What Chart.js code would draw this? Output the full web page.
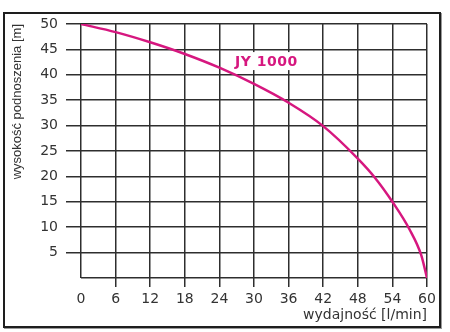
<!DOCTYPE html>
<html>
<head>
<meta charset="utf-8">
<script src="https://cdn.jsdelivr.net/npm/chart.js@4"></script>
<style>
  body { margin: 0; background: #fff; }
  #wrap { position: relative; width: 450px; height: 332px; }
  #frame {
    position: absolute; left: 3px; top: 12px; width: 438px; height: 316px;
    box-sizing: border-box; border: 2px solid #1e1e1e; box-shadow: 1px 1px 0 #999;
  }
  #chart { position: absolute; left: 0; top: 0; }
</style>
</head>
<body>
<div id="wrap">
  <div id="frame"></div>
  <canvas id="chart" width="450" height="332"></canvas>
</div>
<script>
// flow [l/min] and head [m]
const flow = [0, 6, 12, 18, 24, 30, 36, 42, 48, 51, 54, 57, 59, 60];
const head = [50, 48.4, 46.4, 44.1, 41.4, 38.2, 34.5, 29.9, 23.5, 19.7, 15.0, 9.5, 4.5, 0];
const seriesName = 'JY 1000';
const xTitle = 'wydajność [l/min]';
const yTitle = 'wysokość podnoszenia [m]';
const xTicks = { min: 0, max: 60, step: 6 };
const yTicks = { min: 0, max: 50, step: 5 };

const pink = '#d6177f';
const gridColor = '#2e2e2e';

const points = flow.map((x, i) => ({ x: x, y: head[i] }));

// series name written inside the plot, on a white patch over the grid
const seriesLabel = {
  id: 'seriesLabel',
  beforeDatasetsDraw(chart) {
    const ctx = chart.ctx;
    const x = chart.scales.x.getPixelForValue(26.7);
    const y = chart.scales.y.getPixelForValue(42.7);
    ctx.save();
    ctx.font = 'bold 14px "DejaVu Sans"';
    ctx.letterSpacing = '0.5px';
    const w = ctx.measureText(seriesName).width;
    ctx.fillStyle = '#fff';
    ctx.fillRect(x - 3, y - 9, w + 5, 18);
    ctx.fillStyle = pink;
    ctx.textBaseline = 'middle';
    ctx.fillText(seriesName, x, y + 1);
    ctx.restore();
  }
};

const hideZeroTick = c => (c.tick && c.tick.value === 0) ? 'rgba(0,0,0,0)' : gridColor;

new Chart(document.getElementById('chart'), {
  type: 'line',
  data: {
    datasets: [{
      label: seriesName,
      data: points,
      borderColor: pink,
      borderWidth: 2.5,
      pointRadius: 0,
      cubicInterpolationMode: 'monotone',
      fill: false
    }]
  },
  options: {
    responsive: false,
    animation: false,
    devicePixelRatio: 1,
    layout: { padding: { top: 24, right: 23, left: 6, bottom: 4 } },
    plugins: { legend: { display: false }, tooltip: { enabled: false } },
    scales: {
      x: {
        type: 'linear',
        min: xTicks.min,
        max: xTicks.max,
        afterFit(scale) { scale.height = 50; },
        border: { display: false },
        grid: { color: gridColor, lineWidth: 1.5, tickLength: 9, tickColor: hideZeroTick },
        ticks: {
          stepSize: xTicks.step,
          color: '#333',
          padding: 4,
          maxRotation: 0,
          font: { family: 'DejaVu Sans', size: 14 }
        },
        title: {
          display: true,
          text: xTitle,
          align: 'end',
          color: '#333',
          padding: { top: 0, bottom: 4 },
          font: { family: 'DejaVu Sans', size: 14 }
        }
      },
      y: {
        min: yTicks.min,
        max: yTicks.max,
        afterFit(scale) { scale.width = 75; },
        border: { display: false },
        grid: { color: gridColor, lineWidth: 1.5, tickLength: 15, tickColor: hideZeroTick },
        ticks: {
          stepSize: yTicks.step,
          color: '#333',
          padding: 8,
          font: { family: 'DejaVu Sans', size: 14 },
          callback: v => v === 0 ? '' : v
        },
        title: {
          display: true,
          text: yTitle,
          align: 'end',
          color: '#333',
          padding: { top: 4, bottom: 0 },
          font: { family: 'Liberation Sans', size: 13 }
        }
      }
    }
  },
  plugins: [seriesLabel]
});
</script>
</body>
</html>
